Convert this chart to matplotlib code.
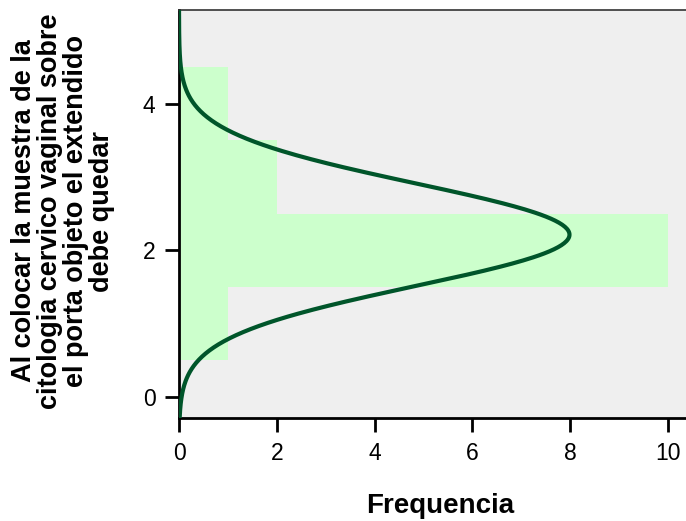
import numpy as np
import matplotlib
matplotlib.use("Agg")
import matplotlib.pyplot as plt

# histogram of answers (horizontal), bins of width 1
bin_centers = [1, 2, 3, 4]
counts = [1, 10, 2, 1]
bin_width = 1.0

ylabel_lines = ["Al colocar la muestra de la",
                "citologia cervico vaginal sobre",
                "el porta objeto el extendido",
                "debe quedar"]
xlabel = "Frequencia"
xticks = [0, 2, 4, 6, 8, 10]
yticks = [0, 2, 4]

plt.rcParams['font.family'] = ['Liberation Sans', 'DejaVu Sans']

fig = plt.figure(figsize=(6.86, 5.21), dpi=100)
ax = fig.add_axes([179 / 686, 103 / 521, 1 - 179 / 686, 408 / 521])
ax.set_facecolor('#efefef')

ylim = (-0.287, 5.28)
ax.barh(bin_centers, counts, height=bin_width, left=0, color='#ccffcc',
        edgecolor='none', zorder=1)

# normal curve fitted to the binned data, scaled to counts
values = np.repeat(bin_centers, counts)
mu = values.mean()
sd = values.std(ddof=1)
yy = np.linspace(ylim[0], ylim[1], 400)
dens = len(values) * bin_width * np.exp(-0.5 * ((yy - mu) / sd) ** 2) / (sd * np.sqrt(2 * np.pi))
ax.plot(dens, yy, color='#00552a', lw=3, zorder=3, solid_capstyle='butt')

ax.set_xlim(0, 10.37)
ax.set_ylim(*ylim)
ax.set_xticks(xticks)
ax.set_yticks(yticks)
ax.tick_params(labelsize=16.5, width=2, length=10, color='black', pad=7)

for s in ['left', 'bottom']:
    ax.spines[s].set_linewidth(2)
    ax.spines[s].set_color('black')
ax.spines['top'].set_linewidth(1.2)
ax.spines['top'].set_color('#333333')
ax.spines['right'].set_visible(False)

ax.set_xlabel(xlabel, fontsize=20, fontweight='bold')
ax.xaxis.set_label_coords((440 - 179) / (686 - 179), -0.183)
fig.text(63 / 686, 1 - 211 / 521, "\n".join(ylabel_lines), rotation=90,
         fontsize=19.5, fontweight='bold', ha='center', va='center',
         multialignment='center', linespacing=1.0)

fig.savefig('out.png', dpi=100)
